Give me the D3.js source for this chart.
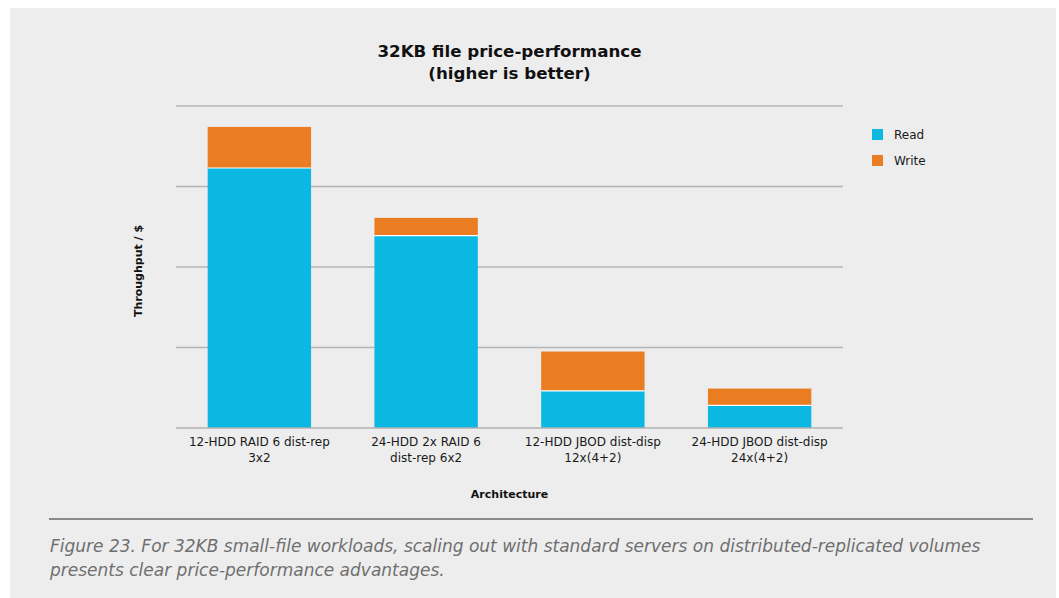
<!DOCTYPE html>
<html><head><meta charset="utf-8">
<script src="https://cdn.jsdelivr.net/npm/d3@7"></script>
<style>
body{margin:0;background:#fff;}
svg{display:block;}
text{font-family:"DejaVu Sans",sans-serif;}
</style></head>
<body>
<svg id="chart" width="1059" height="598"></svg>
<script>
const categories = [
  ["12-HDD RAID 6 dist-rep","3x2"],
  ["24-HDD 2x RAID 6","dist-rep 6x2"],
  ["12-HDD JBOD dist-disp","12x(4+2)"],
  ["24-HDD JBOD dist-disp","24x(4+2)"]
];
const readValues  = [3.23, 2.39, 0.46, 0.28];
const writeValues = [0.51, 0.22, 0.49, 0.21];
const seriesNames = ["Read","Write"];
const seriesColors = ["#0bb8e2","#ea7d22"];
const yTicks = [0,1,2,3,4];

const svg = d3.select("#chart");
svg.append("rect").attr("x",10).attr("y",8).attr("width",1046).attr("height",590).attr("fill","#ededed");

const x = d3.scaleBand().domain(d3.range(categories.length)).range([176,843]).paddingInner(0.38).paddingOuter(0.19);
const y = d3.scaleLinear().domain([0,4]).range([428,106]);

svg.append("g").selectAll("line").data(yTicks.slice(1)).join("line")
  .attr("x1",176).attr("x2",843).attr("y1",d=>y(d)).attr("y2",d=>y(d))
  .attr("stroke","#b5b5b5").attr("stroke-width",1.5);

const data = categories.map((c,i)=>({i, read:readValues[i], write:writeValues[i]}));
const stack = d3.stack().keys(["read","write"])(data);

svg.append("g").selectAll("g").data(stack).join("g")
  .attr("fill",(d,k)=>seriesColors[k])
  .selectAll("rect").data(d=>d).join("rect")
  .attr("x",d=>x(d.data.i)).attr("width",x.bandwidth())
  .attr("y",d=>y(d[1])).attr("height",d=>y(d[0])-y(d[1]));

svg.append("g").selectAll("line").data(data).join("line")
  .attr("x1",d=>x(d.i)).attr("x2",d=>x(d.i)+x.bandwidth())
  .attr("y1",d=>y(d.read)).attr("y2",d=>y(d.read))
  .attr("stroke","#fff").attr("stroke-width",1.2);

svg.append("line").attr("x1",176).attr("x2",843).attr("y1",y(0)).attr("y2",y(0))
  .attr("stroke","#b0b0b0").attr("stroke-width",1.5);

const xl = svg.append("g").selectAll("text").data(categories).join("text")
  .attr("x",(d,i)=>x(i)+x.bandwidth()/2).attr("y",446)
  .attr("text-anchor","middle").attr("font-size",12).attr("fill","#1a1a1a");
xl.selectAll("tspan").data(d=>d).join("tspan")
  .attr("x",function(){return this.parentNode.getAttribute("x");})
  .attr("dy",(d,j)=>j?15.5:0).text(d=>d);

svg.append("text").attr("x",509.5).attr("y",498).attr("text-anchor","middle")
  .attr("font-size",11).attr("font-weight","bold").attr("fill","#111").text("Architecture");
svg.append("text").attr("transform","translate(142,271) rotate(-90)").attr("text-anchor","middle")
  .attr("font-size",11).attr("font-weight","bold").attr("fill","#111").text("Throughput / $");

const t = svg.append("text").attr("x",509.5).attr("y",57).attr("text-anchor","middle")
  .attr("font-size",16.7).attr("font-weight","bold").attr("fill","#111");
t.append("tspan").attr("x",509.5).text("32KB file price-performance");
t.append("tspan").attr("x",509.5).attr("dy",21.5).text("(higher is better)");

const lg = svg.append("g").selectAll("g").data(seriesNames).join("g")
  .attr("transform",(d,i)=>`translate(872,${129+i*26})`);
lg.append("rect").attr("width",11).attr("height",11).attr("fill",(d,i)=>seriesColors[i]);
lg.append("text").attr("x",22).attr("y",10).attr("font-size",12).attr("fill","#1a1a1a").text(d=>d);

svg.append("line").attr("x1",49).attr("x2",1033).attr("y1",519).attr("y2",519)
  .attr("stroke","#8a8a8a").attr("stroke-width",2);
const cap = svg.append("text").attr("x",50).attr("y",552).attr("font-size",17)
  .attr("font-style","italic").attr("fill","#6f6f6f");
cap.append("tspan").attr("x",50).text("Figure 23. For 32KB small-file workloads, scaling out with standard servers on distributed-replicated volumes");
cap.append("tspan").attr("x",50).attr("dy",23.5).text("presents clear price-performance advantages.");
</script>
</body></html>
